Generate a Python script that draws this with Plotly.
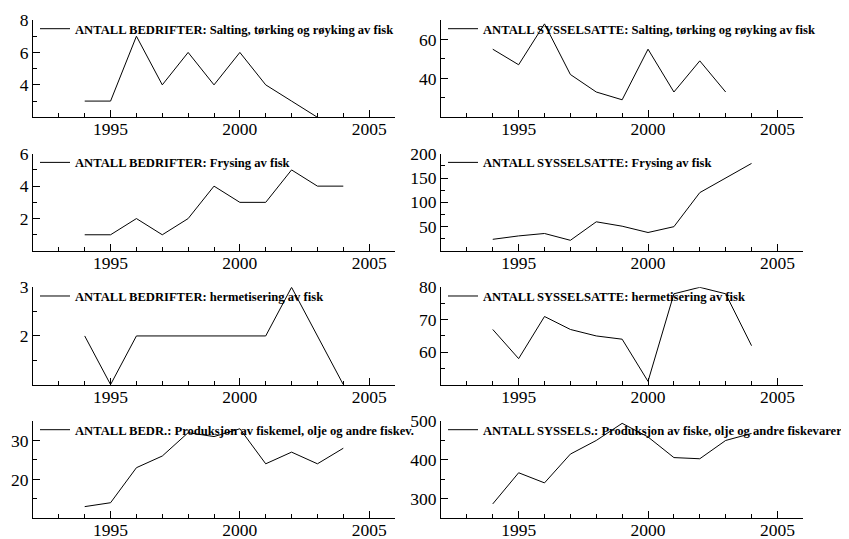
import plotly.graph_objects as go

# ---- data ----
years = [1994, 1995, 1996, 1997, 1998, 1999, 2000, 2001, 2002, 2003, 2004]

bedr_salting = [3, 3, 7, 4, 6, 4, 6, 4, 3, 2]
syss_salting = [55, 47, 68, 42, 33, 29, 55, 33, 49, 33]
bedr_frysing = [1, 1, 2, 1, 2, 4, 3, 3, 5, 4, 4]
syss_frysing = [24, 31, 36, 22, 60, 51, 38, 50, 120, 150, 180]
bedr_herm = [2, 1, 2, 2, 2, 2, 2, 2, 3, 2, 1]
syss_herm = [67, 58, 71, 67, 65, 64, 51, 78, 80, 78, 62]
bedr_prod = [13, 14, 23, 26, 32, 31, 33, 24, 27, 24, 28]
syss_prod = [287, 367, 341, 415, 450, 494, 459, 406, 403, 450, 468]

names = [
    "ANTALL BEDRIFTER: Salting, tørking og røyking av fisk",
    "ANTALL SYSSELSATTE: Salting, tørking og røyking av fisk",
    "ANTALL BEDRIFTER: Frysing av fisk",
    "ANTALL SYSSELSATTE: Frysing av fisk",
    "ANTALL BEDRIFTER: hermetisering av fisk",
    "ANTALL SYSSELSATTE: hermetisering av fisk",
    "ANTALL BEDR.: Produksjon av fiskemel, olje og andre fiskev.",
    "ANTALL SYSSELS.: Produksjon av fiske, olje og andre fiskevarer",
]
series = [bedr_salting, syss_salting, bedr_frysing, syss_frysing,
          bedr_herm, syss_herm, bedr_prod, syss_prod]

x_range = [1992, 2006]
x_tickvals = [1995, 2000, 2005]

y_ranges = [[2, 8], [20, 70], [0, 6], [0, 200], [1, 3], [50, 80], [10, 35], [250, 500]]
y_tickvals = [[4, 6, 8], [40, 60], [2, 4, 6], [50, 100, 150, 200], [2, 3],
              [60, 70, 80], [20, 30], [300, 400, 500]]
y_minor = [1, 10, 1, 25, 0.5, 5, 5, 50]

# ---- layout geometry (pixels, relative to the figure; page body adds 8px) ----
OFF = 8
W, H = 849 - OFF, 539 - OFF
col_left = [(33 - OFF, 395 - OFF), (441 - OFF, 803.3 - OFF)]
row_top = [20 - OFF, 153.7 - OFF, 287.3 - OFF, 421 - OFF]
row_h = 97.3

font_family = "Liberation Serif"

fig = go.Figure()
layout = dict(
    template="none",
    width=W, height=H, autosize=False,
    margin=dict(l=0, r=0, t=0, b=0, pad=0),
    paper_bgcolor="white", plot_bgcolor="white",
    font=dict(family=font_family, color="black", size=17.5),
    showlegend=True,
)

for i, (name, vals) in enumerate(zip(names, series)):
    r, c = divmod(i, 2)
    idx = i + 1
    xa = "x" if idx == 1 else f"x{idx}"
    ya = "y" if idx == 1 else f"y{idx}"
    lg = "legend" if idx == 1 else f"legend{idx}"
    fig.add_trace(go.Scatter(
        x=years[:len(vals)], y=vals, mode="lines", name=name,
        line=dict(color="black", width=1),
        xaxis=xa, yaxis=ya, legend=lg, hoverinfo="x+y",
    ))
    x0, x1 = col_left[c]
    top = row_top[r]
    bot = top + row_h
    layout[f"xaxis{'' if idx == 1 else idx}"] = dict(
        domain=[x0 / W, x1 / W], anchor=ya, range=x_range, automargin=False,
        tickmode="array", tickvals=x_tickvals,
        ticks="inside", ticklen=7, tickwidth=1, tickcolor="black",
        ticklabelstandoff=-4,
        minor=dict(tickmode="linear", tick0=1992, dtick=1, ticks="inside",
                   ticklen=4, tickwidth=1, tickcolor="black", showgrid=False),
        showline=True, linecolor="black", linewidth=1,
        showgrid=False, zeroline=False,
        tickfont=dict(size=17.5, family=font_family, color="black"),
    )
    layout[f"yaxis{'' if idx == 1 else idx}"] = dict(
        domain=[1 - bot / H, 1 - top / H], anchor=xa, range=y_ranges[i],
        automargin=False,
        tickmode="array", tickvals=y_tickvals[i],
        ticks="inside", ticklen=7, tickwidth=1, tickcolor="black",
        minor=dict(tickmode="linear", tick0=0, dtick=y_minor[i], ticks="inside",
                   ticklen=4, tickwidth=1, tickcolor="black", showgrid=False),
        showline=True, linecolor="black", linewidth=1,
        showgrid=False, zeroline=False,
        tickfont=dict(size=17.5, family=font_family, color="black"),
    )
    layout[lg] = dict(
        x=(x0 + 2) / W, y=1 - (top - 6) / H, xanchor="left", yanchor="top",
        xref="paper", yref="paper",
        bgcolor="rgba(0,0,0,0)", borderwidth=0,
        font=dict(family=font_family, size=12.6, color="black", weight="bold"),
        itemwidth=30,
    )

fig.update_layout(**layout)
fig.write_html("out.html")
